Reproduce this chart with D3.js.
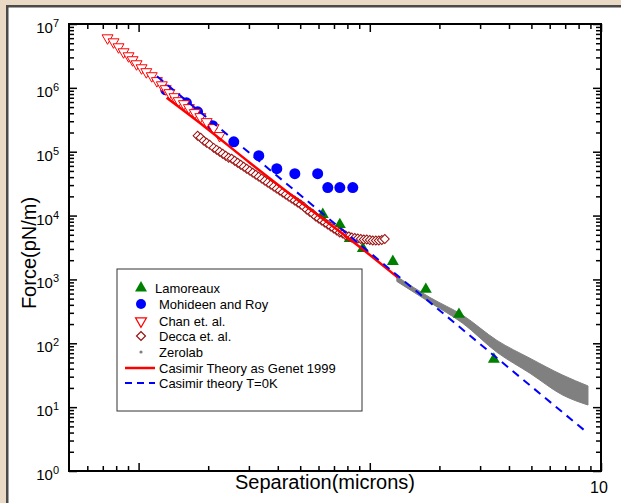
<!DOCTYPE html>
<html>
<head>
<meta charset="utf-8">
<script src="https://cdn.jsdelivr.net/npm/d3@7"></script>
<style>
  html, body { margin: 0; padding: 0; background: #e9d9c5; }
  svg { display: block; font-family: "Liberation Sans", Arial, sans-serif; }
</style>
</head>
<body>
<svg id="chart" width="621" height="503"></svg>
<script>
// ---------------- Data (separation in microns, force in pN/m) ----------------
const lamoreauxX = [0.626, 0.742, 0.819, 0.933, 1.258, 1.747, 2.43, 3.44];
const lamoreauxY = [1.04e4, 7.23e3, 4.37e3, 3.05e3, 1.91e3, 698, 284, 56.2];

const mohideenX = [0.131, 0.161, 0.180, 0.209, 0.258, 0.331, 0.396, 0.474, 0.595, 0.658, 0.742, 0.844];
const mohideenY = [9.3e5, 5.83e5, 4.22e5, 2.55e5, 1.43e5, 8.66e4, 5.42e4, 4.53e4, 4.53e4, 2.74e4, 2.74e4, 2.74e4];

const chanX = [0.0734, 0.0779, 0.0819, 0.0861, 0.0905, 0.0942, 0.098, 0.103, 0.108, 0.114, 0.120, 0.126,
               0.131, 0.136, 0.143, 0.149, 0.157, 0.165, 0.175, 0.185, 0.197, 0.211, 0.224];
const chanY = [6.04e6, 5.23e6, 4.37e6, 3.65e6, 3.16e6, 2.74e6, 2.37e6, 2.05e6, 1.78e6, 1.54e6, 1.29e6, 1.11e6,
               9.65e5, 8.36e5, 7.23e5, 6.26e5, 5.62e5, 4.87e5, 4.07e5, 3.52e5, 2.94e5, 2.37e5, 1.78e5];

const deccaX = [0.180, 0.1855, 0.1912, 0.197, 0.203, 0.2112, 0.2177, 0.2242, 0.231, 0.238, 0.2453, 0.2527,
                0.2604, 0.2683, 0.2765, 0.2848, 0.2935, 0.3024, 0.3115, 0.321, 0.3307, 0.3408, 0.3511, 0.3617,
                0.3727, 0.384, 0.3957, 0.4077, 0.42, 0.4328, 0.4459, 0.4594, 0.4733, 0.4877, 0.5025, 0.5177,
                0.5334, 0.5496, 0.5663, 0.5835, 0.6012, 0.6194, 0.6382, 0.6576, 0.6776, 0.6981, 0.7194, 0.7412,
                0.7637, 0.7869, 0.8111, 0.8358, 0.8612, 0.8873, 0.9142, 0.9419, 0.9705, 1.0, 1.030, 1.062,
                1.094, 1.127, 1.161];
const deccaY = [1.78e5, 1.66e5, 1.49e5, 1.38e5, 1.29e5, 1.15e5, 1.07e5, 1.0e5, 9.31e4, 8.66e4, 8.06e4, 7.78e4,
                7.23e4, 6.73e4, 6.26e4, 5.83e4, 5.42e4, 5.05e4, 4.70e4, 4.37e4, 4.07e4, 3.79e4, 3.52e4, 3.28e4,
                3.05e4, 2.84e4, 2.64e4, 2.46e4, 2.29e4, 2.13e4, 1.98e4, 1.84e4, 1.72e4, 1.60e4, 1.49e4, 1.38e4,
                1.24e4, 1.15e4, 1.07e4, 9.65e3, 8.98e3, 8.36e3, 7.78e3, 7.23e3, 6.73e3, 6.26e3, 5.83e3, 5.42e3,
                5.23e3, 4.87e3, 4.70e3, 4.53e3, 4.45e3, 4.37e3, 4.30e3, 4.22e3, 4.22e3, 4.14e3, 4.07e3, 4.07e3,
                4.07e3, 4.14e3, 4.30e3];

// Zerolab band: separation, upper and lower edge of the dense point cloud
const zerolabX  = [1.309, 1.819, 2.527, 3.547, 4.927, 6.846, 8.783];
const zerolabHi = [1.11e3, 523, 274, 111, 58.3, 31.6, 21.5];
const zerolabLo = [931, 437, 205, 72.3, 34.0, 15.4, 10.8];

// Casimir theory as Genet 1999 (red line)
const genetX = [0.1322, 0.1931, 0.3024, 0.4977, 0.7412, 1.072, 1.322];
const genetY = [6.98e5, 2.46e5, 6.73e4, 1.66e4, 5.62e3, 1.98e3, 1.07e3];

// Casimir theory T=0K (blue dashed)
const idealX = [0.12, 0.5, 1, 2, 4, 8.5];
const idealY = [1.52e6, 2.1e4, 2630, 329, 41, 4.3];

const xMajorTicks = [0.1, 1, 10];
const xMinorTicks = [0.06, 0.07, 0.08, 0.09, 0.2, 0.3, 0.4, 0.5, 0.6, 0.7, 0.8, 0.9, 2, 3, 4, 5, 6, 7, 8, 9];
const xTickLabels = ["10"];          // only the right-hand label is printed
const yExponents = [0, 1, 2, 3, 4, 5, 6, 7];

const legendLabels = ["Lamoreaux", "Mohideen and Roy", "Chan et. al.", "Decca et. al.", "Zerolab",
                      "Casimir Theory as Genet 1999", "Casimir theory T=0K"];

// ---------------- Drawing ----------------
const svg = d3.select("#chart");
const L = 69, R = 601, T = 24, B = 471;

svg.append("rect").attr("x", 0).attr("y", 0).attr("width", 621).attr("height", 503).attr("fill", "#e9d9c5");
svg.append("rect").attr("x", 7.25).attr("y", 6.25).attr("width", 700).attr("height", 600)
   .attr("fill", "#ffffff").attr("stroke", "#4a4a4a").attr("stroke-width", 2.5);

const x = d3.scaleLog().domain([0.05, 10]).range([L, R]);
const y = d3.scaleLog().domain([1, 1e7]).range([B, T]);

const yMajorTicks = yExponents.map(e => Math.pow(10, e));
const yMinorTicks = [];
for (let e = 0; e < 7; e++) for (let m = 2; m <= 9; m++) yMinorTicks.push(m * Math.pow(10, e));

const plot = svg.append("g");

// Zerolab band
const zer = zerolabX.map((d, i) => ({x: d, hi: zerolabHi[i], lo: zerolabLo[i]}));
plot.append("path").datum(zer)
  .attr("d", d3.area().x(d => x(d.x)).y0(d => y(d.lo)).y1(d => y(d.hi)).curve(d3.curveMonotoneX))
  .attr("fill", "#808080").attr("stroke", "#808080").attr("stroke-width", 1);

// Lamoreaux
const triUp = d3.symbol().type(d3.symbolTriangle).size(62);
plot.append("g").selectAll("path").data(lamoreauxX.map((d, i) => [d, lamoreauxY[i]])).join("path")
  .attr("d", triUp).attr("transform", d => `translate(${x(d[0])},${y(d[1])})`)
  .attr("fill", "#008000");

// Mohideen and Roy
plot.append("g").selectAll("circle").data(mohideenX.map((d, i) => [d, mohideenY[i]])).join("circle")
  .attr("cx", d => x(d[0])).attr("cy", d => y(d[1])).attr("r", 5.5).attr("fill", "#0000ff");

// Chan
const triDown = d3.symbol().type(d3.symbolTriangle).size(52);
plot.append("g").selectAll("path").data(chanX.map((d, i) => [d, chanY[i]])).join("path")
  .attr("d", triDown).attr("transform", d => `translate(${x(d[0])},${y(d[1])}) rotate(180)`)
  .attr("fill", "#ffffff").attr("stroke", "#ff0000").attr("stroke-width", 1);

// Decca
const diamond = d3.symbol().type(d3.symbolSquare).size(40);
plot.append("g").selectAll("path").data(deccaX.map((d, i) => [d, deccaY[i]])).join("path")
  .attr("d", diamond).attr("transform", d => `translate(${x(d[0])},${y(d[1])}) rotate(45)`)
  .attr("fill", "#ffffff").attr("stroke", "#9a1010").attr("stroke-width", 1);

// Genet theory line
plot.append("path").datum(genetX.map((d, i) => [d, genetY[i]]))
  .attr("d", d3.line().x(d => x(d[0])).y(d => y(d[1])).curve(d3.curveMonotoneX))
  .attr("fill", "none").attr("stroke", "#ff0000").attr("stroke-width", 2.5);

// T=0K line
plot.append("path").datum(idealX.map((d, i) => [d, idealY[i]]))
  .attr("d", d3.line().x(d => x(d[0])).y(d => y(d[1])))
  .attr("fill", "none").attr("stroke", "#0000ff").attr("stroke-width", 2).attr("stroke-dasharray", "8,6");

// axes (ticks inward)
function axisSet(axisFn, scale, vals, size, tr) {
  const g = svg.append("g").attr("transform", tr)
    .call(axisFn(scale).tickValues(vals).tickSize(size).tickFormat(""));
  g.select(".domain").remove();
  g.selectAll("line").attr("stroke", "#000").attr("stroke-width", 1.5);
}
axisSet(d3.axisBottom, x, xMajorTicks, -8, `translate(0,${B})`);
axisSet(d3.axisBottom, x, xMinorTicks, -5, `translate(0,${B})`);
axisSet(d3.axisTop, x, xMajorTicks, -8, `translate(0,${T})`);
axisSet(d3.axisTop, x, xMinorTicks, -5, `translate(0,${T})`);
axisSet(d3.axisLeft, y, yMajorTicks, -8, `translate(${L},0)`);
axisSet(d3.axisLeft, y, yMinorTicks, -5, `translate(${L},0)`);
axisSet(d3.axisRight, y, yMajorTicks, -8, `translate(${R},0)`);
axisSet(d3.axisRight, y, yMinorTicks, -5, `translate(${R},0)`);

svg.append("rect").attr("x", L).attr("y", T).attr("width", R - L).attr("height", B - T)
  .attr("fill", "none").attr("stroke", "#000").attr("stroke-width", 2);

// y tick labels
yExponents.forEach(e => {
  const t = svg.append("text").attr("x", 59).attr("y", y(Math.pow(10, e)) + 9)
    .attr("text-anchor", "end").attr("fill", "#000");
  t.append("tspan").attr("font-size", 15).text("10");
  t.append("tspan").attr("font-size", 11).attr("dy", -6).text(String(e));
});

// x tick label
svg.append("text").attr("x", x(10) - 2).attr("y", 493).attr("text-anchor", "middle")
  .attr("font-size", 16).attr("fill", "#000").text(xTickLabels[0]);

// axis titles
svg.append("text").attr("x", 325).attr("y", 489).attr("text-anchor", "middle")
  .attr("font-size", 20).attr("fill", "#000").text("Separation(microns)");
svg.append("text").attr("transform", "translate(36,253) rotate(-90)").attr("text-anchor", "middle")
  .attr("font-size", 20).attr("fill", "#000").text("Force(pN/m)");

// legend
const lg = svg.append("g");
lg.append("rect").attr("x", 117).attr("y", 269).attr("width", 245).attr("height", 142)
  .attr("fill", "#fff").attr("stroke", "#333").attr("stroke-width", 1);
const baselines = [293, 309, 326, 341, 357, 373, 388];
const sx = 141;
lg.append("path").attr("d", triUp).attr("transform", `translate(${sx},${baselines[0] - 5})`).attr("fill", "#008000");
lg.append("circle").attr("cx", sx).attr("cy", baselines[1] - 5).attr("r", 5).attr("fill", "#0000ff");
lg.append("path").attr("d", triDown).attr("transform", `translate(${sx},${baselines[2] - 5}) rotate(180)`)
  .attr("fill", "#fff").attr("stroke", "#ff0000").attr("stroke-width", 1.2);
lg.append("path").attr("d", diamond).attr("transform", `translate(${sx},${baselines[3] - 5}) rotate(45)`)
  .attr("fill", "#fff").attr("stroke", "#9a1010").attr("stroke-width", 1.2);
lg.append("circle").attr("cx", sx).attr("cy", baselines[4] - 5).attr("r", 1.6).attr("fill", "#808080");
lg.append("line").attr("x1", 125).attr("x2", 155).attr("y1", baselines[5] - 5).attr("y2", baselines[5] - 5)
  .attr("stroke", "#ff0000").attr("stroke-width", 2.5);
lg.append("line").attr("x1", 125).attr("x2", 155).attr("y1", baselines[6] - 5).attr("y2", baselines[6] - 5)
  .attr("stroke", "#0000ff").attr("stroke-width", 2).attr("stroke-dasharray", "7,5");
legendLabels.forEach((lab, i) => {
  lg.append("text").attr("x", i === 0 ? 155 : 159).attr("y", baselines[i])
    .attr("font-size", 13).attr("fill", "#000").text(lab);
});
</script>
</body>
</html>
